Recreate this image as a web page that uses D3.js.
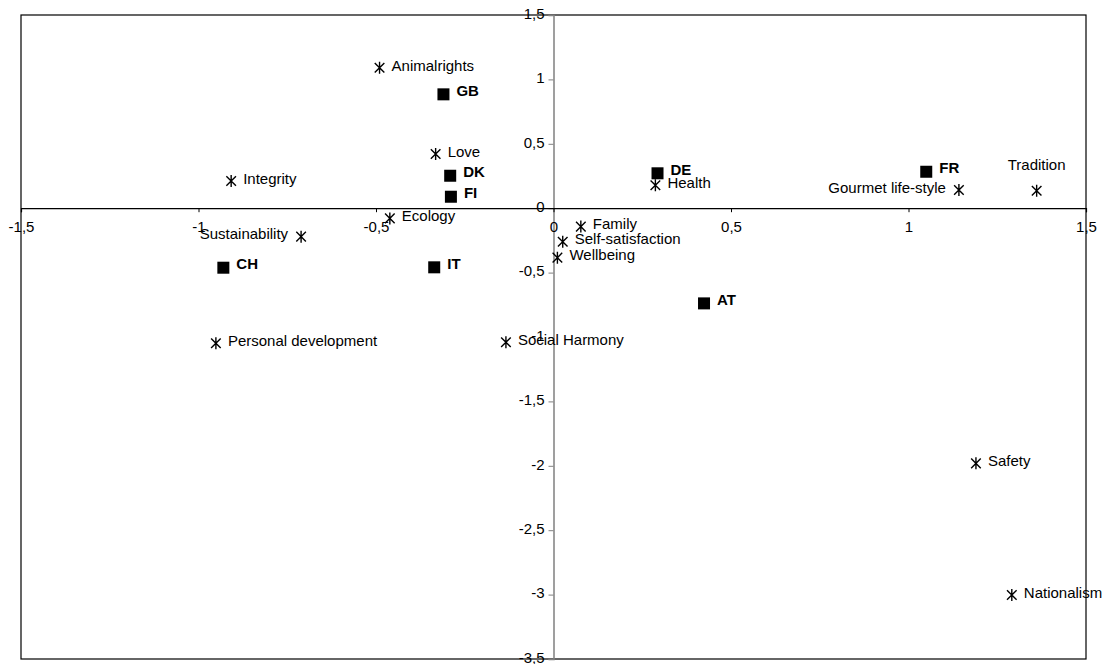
<!DOCTYPE html>
<html><head><meta charset="utf-8">
<script src="https://cdn.jsdelivr.net/npm/d3@7"></script>
<style>body{margin:0;background:#fff;}svg{display:block;font-family:Arial,"Liberation Sans",sans-serif;}</style>
</head><body>
<svg id="c" width="1106" height="664"></svg>
<script>
// Attributes (star markers)
const attrNames = ["Animalrights","Integrity","Love","Ecology","Health","Gourmet life-style","Tradition","Sustainability","Personal development","Family","Self-satisfaction","Wellbeing","Social Harmony","Safety","Nationalism"];
const attrX = [-0.49,-0.908,-0.332,-0.461,0.287,1.142,1.361,-0.711,-0.951,0.077,0.026,0.011,-0.134,1.190,1.291];
const attrY = [1.09,0.211,0.421,-0.079,0.178,0.141,0.136,-0.221,-1.049,-0.143,-0.26,-0.384,-1.041,-1.981,-3.003];
const attrLabelPos = ["right","right","right","right","right","left","above","left","right","right","right","right","right","right","right"];
// Countries (square markers)
const countryNames = ["GB","DK","FI","DE","FR","CH","IT","AT"];
const countryX = [-0.31,-0.291,-0.289,0.293,1.05,-0.93,-0.336,0.424];
const countryY = [0.884,0.252,0.089,0.271,0.283,-0.462,-0.459,-0.739];
// Ticks
const xTicks = [-1.5,-1,-0.5,0,0.5,1,1.5];
const yTicks = [1.5,1,0.5,0,-0.5,-1,-1.5,-2,-2.5,-3,-3.5];

const fmt = v => String(v).replace(".", ",");
const svg = d3.select("#c");
const L=21, R=1086, T=15, B=659;
const FS = 15;
const x = d3.scaleLinear().domain([-1.5,1.5]).range([L,R]);
const y = d3.scaleLinear().domain([-3.5,1.5]).range([B,T]);

// Frame
svg.append("rect").attr("x",L).attr("y",T).attr("width",R-L).attr("height",B-T)
  .attr("fill","none").attr("stroke","#000").attr("stroke-width",1.2);

// Y axis (gray) at x=0
const yAxis = d3.axisLeft(y).tickValues(yTicks).tickSize(5).tickPadding(4).tickFormat(fmt);
const gy = svg.append("g").attr("transform",`translate(${x(0)},0)`).call(yAxis);
gy.select(".domain").attr("stroke","#808080").attr("stroke-width",1.5);
gy.selectAll(".tick line").attr("stroke","#808080");
gy.selectAll(".tick text").attr("font-size",FS).attr("fill","#000").attr("font-family","Arial, 'Liberation Sans', sans-serif").attr("dy","0.22em");

// X axis (black) at y=0
const xAxis = d3.axisBottom(x).tickValues(xTicks).tickSize(4).tickPadding(9).tickFormat(fmt);
const gx = svg.append("g").attr("transform",`translate(0,${y(0)})`).call(xAxis);
gx.select(".domain").attr("stroke","#000").attr("stroke-width",1.2);
gx.selectAll(".tick line").attr("stroke","#000");
gx.selectAll(".tick text").attr("font-size",FS).attr("fill","#000").attr("font-family","Arial, 'Liberation Sans', sans-serif");

// Star markers
const attrs = attrNames.map((n,i)=>({n, x:attrX[i], y:attrY[i], p:attrLabelPos[i]}));
const s = 6;
const stars = svg.append("g").selectAll("g").data(attrs).join("g")
  .attr("transform",d=>`translate(${x(d.x)},${y(d.y)})`);
stars.append("path")
  .attr("d",`M${-s*0.8},${-s*0.8}L${s*0.8},${s*0.8}M${-s*0.8},${s*0.8}L${s*0.8},${-s*0.8}M0,${-s}L0,${s}`)
  .attr("stroke","#000").attr("stroke-width",1.4).attr("fill","none");
stars.append("text")
  .attr("x",d=>d.p==="right"?12:(d.p==="left"?-13:0))
  .attr("y",d=>d.p==="above"?-26:-2.5)
  .attr("dy","0.35em")
  .attr("text-anchor",d=>d.p==="right"?"start":(d.p==="left"?"end":"middle"))
  .attr("font-size",FS).attr("fill","#000")
  .text(d=>d.n);

// Square markers
const countries = countryNames.map((n,i)=>({n, x:countryX[i], y:countryY[i]}));
const q = 12;
const sq = svg.append("g").selectAll("g").data(countries).join("g")
  .attr("transform",d=>`translate(${x(d.x)},${y(d.y)})`);
sq.append("rect").attr("x",-q/2).attr("y",-q/2).attr("width",q).attr("height",q).attr("fill","#000");
sq.append("text").attr("x",13).attr("y",-3.5).attr("dy","0.35em")
  .attr("font-size",FS).attr("font-weight","bold").attr("fill","#000").text(d=>d.n);
</script>
</body></html>
